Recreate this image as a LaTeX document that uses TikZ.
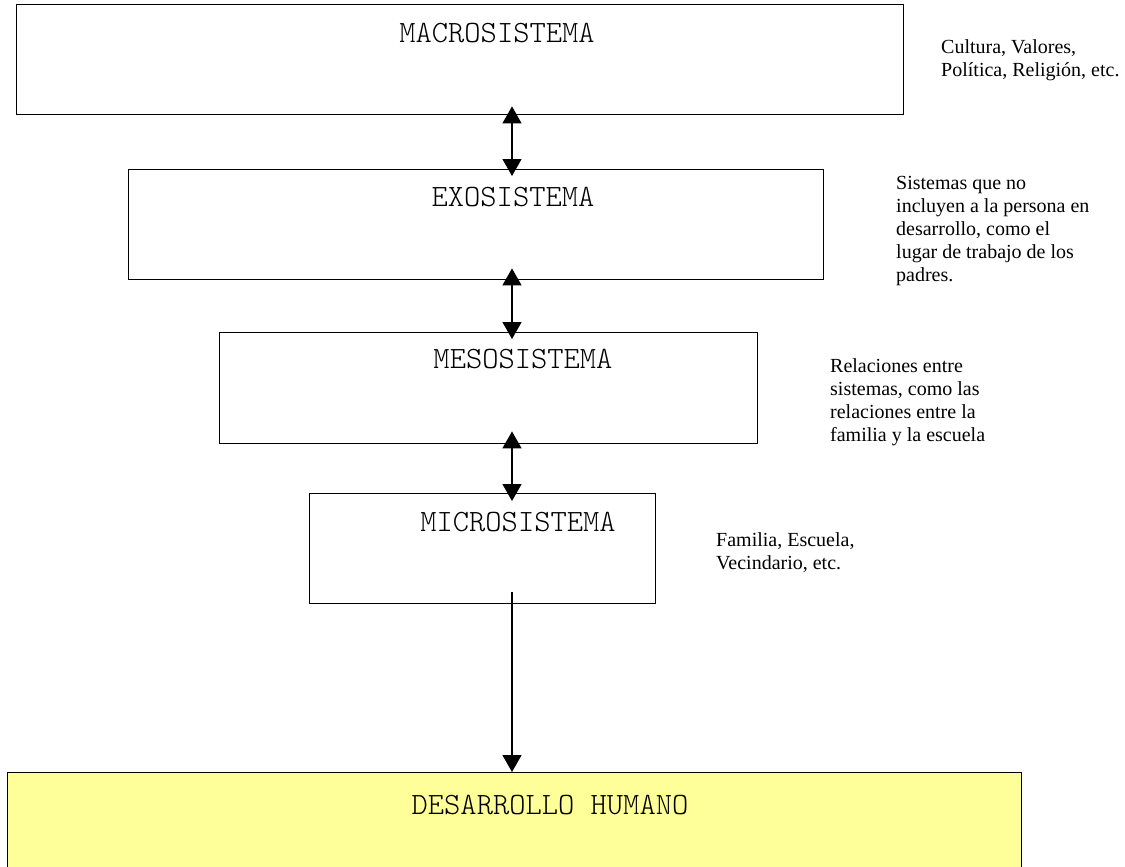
\documentclass[tikz,border=0pt]{standalone}
\usepackage{fontspec}
\setmainfont{Liberation Serif}
\usetikzlibrary{arrows.meta}
\definecolor{humanyellow}{HTML}{FFFF99}

\tikzset{
  sysbox/.style={draw, line width=1.4pt, inner sep=0pt, anchor=north west},
  syslabel/.style={font=\ttfamily\fontseries{l}\fontsize{31}{34}\selectfont, inner sep=0pt},
  note/.style={font=\fontsize{20}{23}\selectfont, align=left, anchor=west, inner sep=0pt},
  link/.style={line width=1.3pt, -{Triangle[length=17pt,width=19pt]}},
  dlink/.style={line width=1.3pt, {Triangle[length=17pt,width=19pt]}-{Triangle[length=17pt,width=19pt]}}
}

\begin{document}
\begin{tikzpicture}[x=1pt,y=-1pt]
\useasboundingbox (0,0) rectangle (1125,867);
% the nested systems
\node[sysbox, minimum width=887pt, minimum height=110pt] (macro) at (16,4) {};
\node[sysbox, minimum width=695pt, minimum height=110pt] (exo) at (128,169) {};
\node[sysbox, minimum width=538pt, minimum height=111pt] (meso) at (219,332) {};
\node[sysbox, minimum width=346pt, minimum height=110pt] (micro) at (309,493) {};
\node[sysbox, fill=humanyellow, minimum width=1014pt, minimum height=120pt] (human) at (7,772) {};

\node[syslabel] (macrolbl) at (497,33) {MACROSISTEMA};
\node[syslabel] (exolbl) at (513,197) {EXOSISTEMA};
\node[syslabel] (mesolbl) at (523,359) {MESOSISTEMA};
\node[syslabel] (microlbl) at (518,522) {MICROSISTEMA};
\node[syslabel] (humanlbl) at (550,805) {DESARROLLO HUMANO};

% notes on the right
\node[note] (macronote) at (941,60) {Cultura, Valores,\\Política, Religión, etc.};
\node[note] (exonote) at (896,231) {Sistemas que no\\incluyen a la persona en\\desarrollo, como el\\lugar de trabajo de los\\padres.};
\node[note] (mesonote) at (830,402) {Relaciones entre\\sistemas, como las\\relaciones entre la\\familia y la escuela};
\node[note] (micronote) at (716,553) {Familia, Escuela,\\Vecindario, etc.};

% links
\coordinate (axis) at (512,0);
\draw[dlink, shorten <=-9pt, shorten >=-7pt] (macro.south -| axis) -- (exo.north -| axis);
\draw[dlink, shorten <=-12pt, shorten >=-7pt] (exo.south -| axis) -- (meso.north -| axis);
\draw[dlink, shorten <=-13pt, shorten >=-8pt] (meso.south -| axis) -- (micro.north -| axis);
\draw[link, shorten <=-12pt] (micro.south -| axis) -- (human.north -| axis);
\end{tikzpicture}
\end{document}
